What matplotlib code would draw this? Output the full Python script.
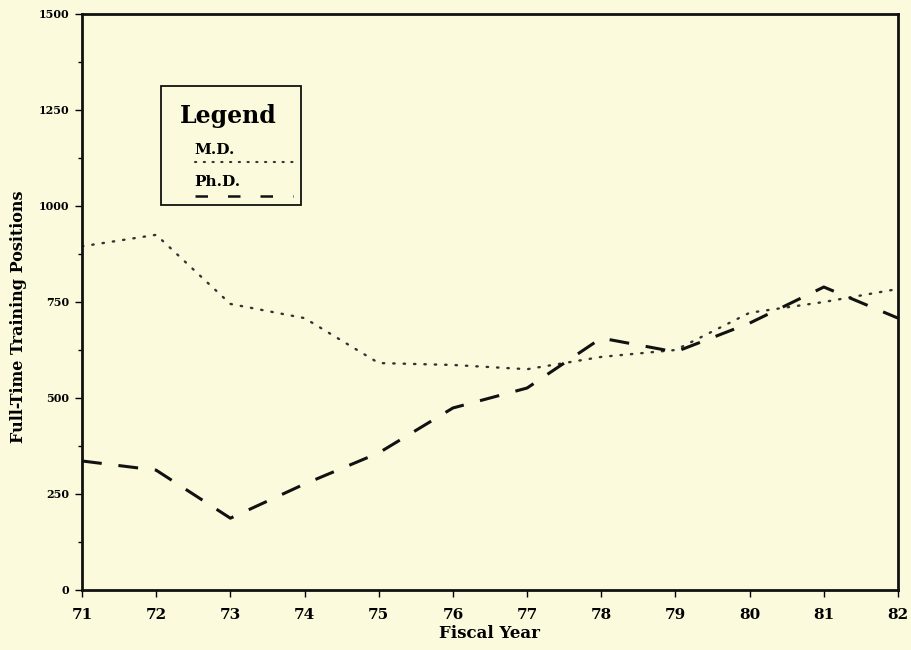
import matplotlib
matplotlib.use("Agg")
import matplotlib.pyplot as plt
from matplotlib.patches import Rectangle
from matplotlib.lines import Line2D
from matplotlib.ticker import MultipleLocator

years = [71, 72, 73, 74, 75, 76, 77, 78, 79, 80, 81, 82]
md = [895, 925, 745, 708, 591, 586, 575, 607, 625, 722, 750, 784]
phd = [336, 312, 187, 276, 357, 474, 526, 656, 620, 695, 789, 708]
yticks = [0, 250, 500, 750, 1000, 1250, 1500]

bg = "#FCFADC"
serif = ["DejaVu Serif"]

fig = plt.figure(figsize=(9.12, 6.5), dpi=100, facecolor=bg)
ax = fig.add_axes([82/912, 1-590/650, (898-82)/912, (590-14)/650])
ax.set_facecolor(bg)

ax.plot(years, md, color="#333333", lw=1.7, linestyle=(0, (0.6, 3.8)),
        dash_capstyle="round")
ax.plot(years, phd, color="#111111", lw=2.2, linestyle=(0, (6.5, 5.5)))

ax.set_xlim(71, 82)
ax.set_ylim(0, 1500)
ax.set_xticks(years)
ax.set_xticklabels([str(y) for y in years], fontfamily=serif, fontweight="bold", fontsize=11)
ax.set_yticks(yticks)
ax.set_yticklabels([str(v) for v in yticks], fontfamily=serif, fontweight="bold", fontsize=8)
ax.yaxis.set_minor_locator(MultipleLocator(125))
ax.tick_params(axis="y", which="major", direction="out", length=5, width=1, pad=4)
ax.tick_params(axis="y", which="minor", direction="out", length=3, width=1)
ax.tick_params(axis="x", which="major", direction="out", length=5, width=1, pad=8)
for s in ax.spines.values():
    s.set_linewidth(2)
    s.set_color("#111111")

ax.set_xlabel("Fiscal Year", fontfamily=serif, fontweight="bold", fontsize=12, labelpad=2)
ax.set_ylabel("Full-Time Training Positions", fontfamily=serif, fontweight="bold",
              fontsize=11.5)
ax.yaxis.set_label_coords(-0.078, 0.475)
ax.yaxis.label.set_va("center")

# Legend box (manual)
def fx(px):
    return (px - 82) / (898 - 82)
def fy(py):
    return (590 - py) / (590 - 14)

ax.add_patch(Rectangle((fx(161), fy(205)), fx(301) - fx(161), fy(86) - fy(205),
                       transform=ax.transAxes, fill=False, lw=1.3, ec="#111111"))
ax.text(fx(228), fy(116), "Legend", transform=ax.transAxes, ha="center", va="center",
        fontfamily=serif, fontweight="bold", fontsize=17)
ax.text(fx(194), fy(150), "M.D.", transform=ax.transAxes, ha="left", va="center",
        fontfamily=serif, fontweight="bold", fontsize=11)
ax.add_line(Line2D([fx(195), fx(293)], [fy(162), fy(162)], transform=ax.transAxes,
                   color="#333333", lw=1.5, linestyle=(0, (0.6, 3.6)),
                   dash_capstyle="round"))
ax.text(fx(194), fy(182), "Ph.D.", transform=ax.transAxes, ha="left", va="center",
        fontfamily=serif, fontweight="bold", fontsize=11)
ax.add_line(Line2D([fx(195), fx(293)], [fy(196), fy(196)], transform=ax.transAxes,
                   color="#111111", lw=1.8, linestyle=(0, (5, 8))))

fig.savefig("out.png", dpi=100, facecolor=bg)
